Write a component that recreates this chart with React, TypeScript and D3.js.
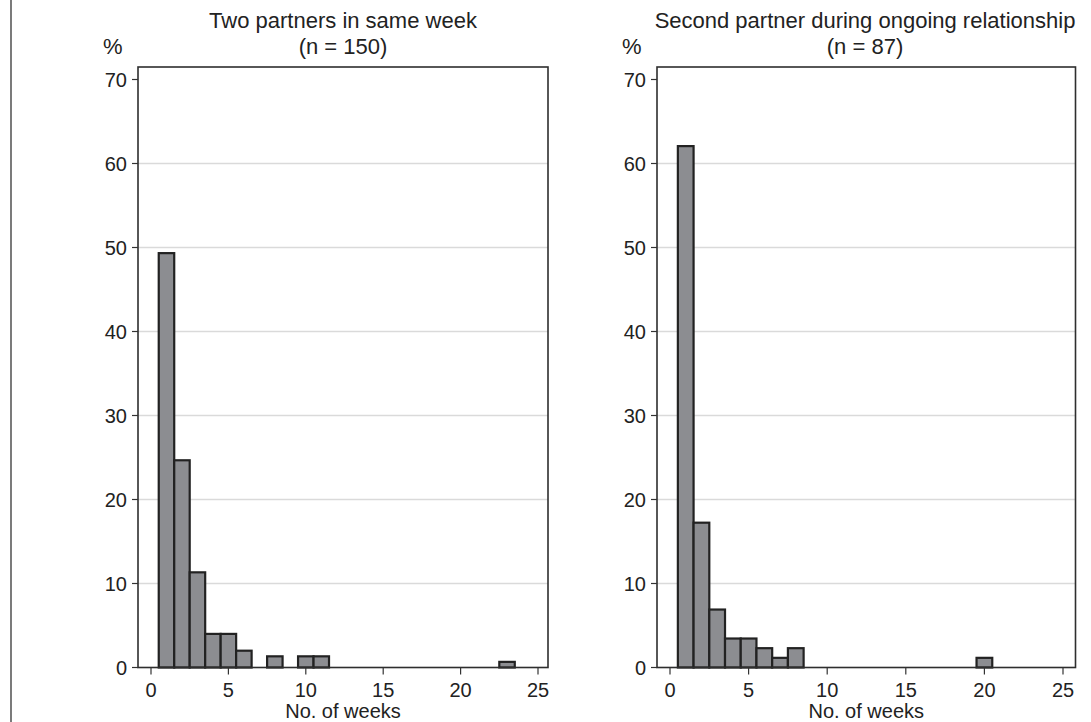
import React from "react";
import * as d3 from "d3";

const titles1 = ["Two partners in same week", "(n = 150)"];
const titles2 = ["Second partner during ongoing relationship", "(n = 87)"];
const weeks1 = [1, 2, 3, 4, 5, 6, 8, 10, 11, 23];
const pct1 = [49.33, 24.67, 11.33, 4.0, 4.0, 2.0, 1.33, 1.33, 1.33, 0.67];
const weeks2 = [1, 2, 3, 4, 5, 6, 7, 8, 20];
const pct2 = [62.07, 17.24, 6.9, 3.45, 3.45, 2.3, 1.15, 2.3, 1.15];
const yTicks = [0, 10, 20, 30, 40, 50, 60, 70];
const gridTicks = [10, 20, 30, 40, 50, 60];
const xTicks = [0, 5, 10, 15, 20, 25];
const xTitle = "No. of weeks";
const yTitle = "%";

const FONT = "'Liberation Sans', Arial, Helvetica, sans-serif";
const W = 1091;
const H = 722;

type PanelProps = {
  frameL: number;
  frameR: number;
  x0: number;
  x25: number;
  titleX: number;
  weeks: number[];
  pct: number[];
  titles: string[];
};

const yScale = d3.scaleLinear().domain([0, 70]).range([667.5, 79.5]);
const frameTop = 67;
const frameBottom = 667.5;

function Panel({ frameL, frameR, x0, x25, titleX, weeks, pct, titles }: PanelProps) {
  const x = d3.scaleLinear().domain([0, 25]).range([x0, x25]);
  const cx = (frameL + frameR) / 2;
  return (
    <g>
      <text x={titleX} y={28} textAnchor="middle" fontSize={22} fill="#222">
        {titles[0]}
      </text>
      <text x={titleX} y={54} textAnchor="middle" fontSize={22} fill="#222">
        {titles[1]}
      </text>
      <text x={frameL - 35} y={54} textAnchor="start" fontSize={22} fill="#222">
        {yTitle}
      </text>
      {gridTicks.map((t) => (
        <line
          key={"g" + t}
          x1={frameL}
          x2={frameR}
          y1={yScale(t)}
          y2={yScale(t)}
          stroke="#dadada"
          strokeWidth={1.5}
        />
      ))}
      {weeks.map((w, i) => (
        <rect
          key={"b" + w}
          x={x(w - 0.5)}
          y={yScale(pct[i])}
          width={x(w + 0.5) - x(w - 0.5)}
          height={yScale(0) - yScale(pct[i])}
          fill="#8c8d91"
          stroke="#222"
          strokeWidth={2.2}
        />
      ))}
      <rect
        x={frameL}
        y={frameTop}
        width={frameR - frameL}
        height={frameBottom - frameTop}
        fill="none"
        stroke="#2e2e2e"
        strokeWidth={1.6}
      />
      {yTicks.map((t) => (
        <g key={"y" + t}>
          <line x1={frameL - 6} x2={frameL} y1={yScale(t)} y2={yScale(t)} stroke="#333" strokeWidth={1.2} />
          <text
            x={frameL - 11}
            y={yScale(t)}
            dy="0.36em"
            textAnchor="end"
            fontSize={20}
            fill="#222"
          >
            {t}
          </text>
        </g>
      ))}
      {xTicks.map((t) => (
        <g key={"x" + t}>
          <line x1={x(t)} x2={x(t)} y1={frameBottom} y2={frameBottom + 7} stroke="#333" strokeWidth={1.2} />
          <text x={x(t)} y={697} textAnchor="middle" fontSize={20} fill="#222">
            {t}
          </text>
        </g>
      ))}
      <text x={cx} y={718} textAnchor="middle" fontSize={20} fill="#222">
        {xTitle}
      </text>
    </g>
  );
}

export default function App() {
  return (
    <svg
      width={W}
      height={H}
      style={{ position: "absolute", left: 0, top: 0, display: "block", background: "#fff" }}
      fontFamily={FONT}
    >
      <rect x={0} y={0} width={W} height={H} fill="#fff" />
      <line x1={11} x2={11} y1={0} y2={H} stroke="#222" strokeWidth={1.2} />
      <Panel frameL={138} frameR={548} x0={151} x25={538} titleX={343} weeks={weeks1} pct={pct1} titles={titles1} />
      <Panel frameL={657} frameR={1075.5} x0={670} x25={1063} titleX={865} weeks={weeks2} pct={pct2} titles={titles2} />
    </svg>
  );
}
